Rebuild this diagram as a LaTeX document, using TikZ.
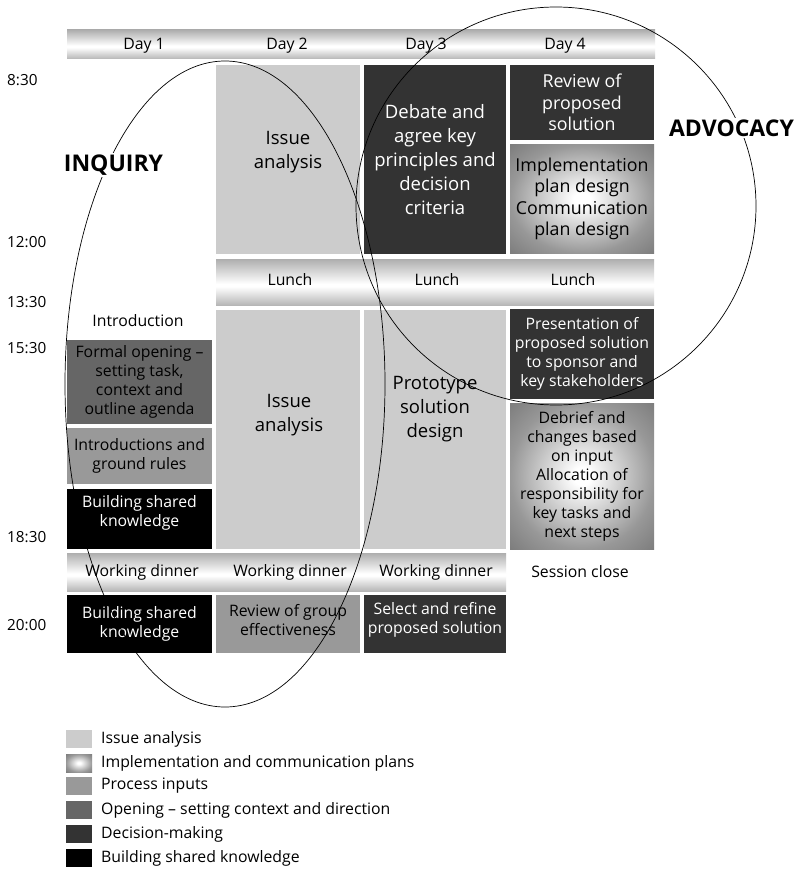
\documentclass[tikz,border=0pt]{standalone}
\usepackage{fontspec}
\setmainfont{Open Sans}

% fills for the session categories
\definecolor{issue}{HTML}{CCCCCC}
\definecolor{process}{HTML}{999999}
\definecolor{opening}{HTML}{666666}
\definecolor{decision}{HTML}{333333}
\definecolor{knowledge}{HTML}{000000}
\definecolor{barTop}{HTML}{AEAEAE}
\definecolor{barBot}{HTML}{B6B6B6}
\definecolor{glowMid}{HTML}{989898}
\definecolor{glowEdge}{HTML}{7E7E7E}

% silver bars for the day headers and meal breaks
\pgfdeclareverticalshading{silverbar}{100bp}{color(0bp)=(barBot); color(25bp)=(barBot); color(45bp)=(white); color(48bp)=(white); color(75bp)=(barTop); color(100bp)=(barTop)}
% white glow for the implementation and communication plans
\pgfdeclareradialshading{glow}{\pgfpoint{0bp}{0bp}}{color(0bp)=(white); color(3bp)=(white); color(25bp)=(glowMid); color(35bp)=(glowEdge); color(50bp)=(glowEdge)}

\tikzset{
  cell/.style={draw=none, inner sep=0pt, align=center, font=\fontsize{15.8}{19}\selectfont},
  bigtext/.style={font=\fontsize{18.5}{24}\selectfont},
  midtext/.style={font=\fontsize{17.8}{21.5}\selectfont},
  silver/.style={cell, shading=silverbar},
  glowing/.style={cell, shading=glow},
  lbl/.style={inner sep=0pt, align=center, font=\fontsize{15.8}{19}\selectfont},
  timelbl/.style={inner sep=0pt, anchor=west, font=\fontsize{15.3}{18}\selectfont},
  phase/.style={inner sep=1.5pt, fill=white, font=\fontsize{23}{26}\selectfont\bfseries},
  ring/.style={draw=black, line width=0.7pt},
  swatch/.style={draw=none, inner sep=0pt, minimum width=26pt, minimum height=18pt},
  legtext/.style={inner sep=0pt, anchor=west, font=\fontsize{15.8}{19}\selectfont}
}

\begin{document}
\begin{tikzpicture}[x=1pt, y=-1pt]
\useasboundingbox[fill=white] (0,0) rectangle (801,869);

% day header
\node[silver, minimum width=588pt, minimum height=29pt] (days) at (361,44.5) {};
\node[lbl] (day1) at (144,46) {Day 1};
\node[lbl] (day2) at (287,46) {Day 2};
\node[lbl] (day3) at (426,46) {Day 3};
\node[lbl] (day4) at (565,46) {Day 4};

% times
\node[timelbl] (t0830) at (7,80) {8:30};
\node[timelbl] (t1200) at (7,242) {12:00};
\node[timelbl] (t1330) at (7,302) {13:30};
\node[timelbl] (t1530) at (7,348) {15:30};
\node[timelbl] (t1830) at (7,537) {18:30};
\node[timelbl] (t2000) at (7,625) {20:00};

% morning sessions
\node[cell, fill=issue, minimum width=144pt, minimum height=189pt] (d2am) at (288,159.5) {};
\node[lbl, bigtext] (d2amt) at (288,152) {Issue\\analysis};
\node[cell, bigtext, fill=decision, text=white, minimum width=142pt, minimum height=189pt] (d3am) at (435,159.5)
  {Debate and\\agree key\\principles and\\decision\\criteria};
\node[cell, midtext, fill=decision, text=white, minimum width=144pt, minimum height=75pt] (d4am) at (582,102.5)
  {Review of\\proposed\\solution};
\node[glowing, midtext, minimum width=144pt, minimum height=108pt] (d4plan) at (582,199)
  {Implementation\\plan design\\Communication\\plan design};

% lunch
\node[silver, minimum width=438pt, minimum height=46pt] (lunch) at (435,282) {};
\node[lbl] (lunch2) at (290,280) {Lunch};
\node[lbl] (lunch3) at (437,280) {Lunch};
\node[lbl] (lunch4) at (573,280) {Lunch};

% afternoon sessions
\node[lbl] (intro) at (138,321) {Introduction};
\node[cell, fill=opening, minimum width=145pt, minimum height=84pt] (d1open) at (139.5,382)
  {Formal opening –\\setting task,\\context and\\outline agenda};
\node[cell, fill=process, minimum width=145pt, minimum height=56pt] (d1rules) at (139.5,456)
  {Introductions and\\ground rules};
\node[cell, fill=knowledge, minimum width=145pt, minimum height=60pt] (d1know) at (139.5,519) {};
\node[lbl, text=white] (d1knowt) at (139.5,513) {Building shared\\knowledge};
\node[cell, fill=issue, minimum width=144pt, minimum height=239pt] (d2pm) at (288,429.5) {};
\node[lbl, bigtext] (d2pmt) at (289,415) {Issue\\analysis};
\node[cell, fill=issue, minimum width=142pt, minimum height=239pt] (d3pm) at (435,429.5) {};
\node[lbl, bigtext] (d3pmt) at (435,409) {Prototype\\solution\\design};
\node[cell, fill=decision, text=white, minimum width=144pt, minimum height=90pt] (d4pres) at (582,354)
  {Presentation of\\proposed solution\\to sponsor and\\key stakeholders};
\node[glowing, minimum width=144pt, minimum height=146pt] (d4deb) at (582,476)
  {Debrief and\\changes based\\on input\\Allocation of\\responsibility for\\key tasks and\\next steps};

% dinner
\node[silver, minimum width=439pt, minimum height=38pt] (dinner) at (286.5,572) {};
\node[lbl] (dinner1) at (142,572) {Working dinner};
\node[lbl] (dinner2) at (290,572) {Working dinner};
\node[lbl] (dinner3) at (436,572) {Working dinner};
\node[lbl] (close) at (580,572) {Session close};

% evening sessions
\node[cell, fill=knowledge, text=white, minimum width=145pt, minimum height=58pt] (e1) at (139.5,624)
  {Building shared\\knowledge};
\node[cell, fill=process, minimum width=144pt, minimum height=58pt] (e2) at (288,624) {};
\node[lbl] (e2t) at (288,620) {Review of group\\effectiveness};
\node[cell, fill=decision, minimum width=142pt, minimum height=58pt] (e3) at (435,624) {};
\node[lbl, text=white] (e3t) at (435,620) {Select and refine\\proposed solution};

% inquiry and advocacy phases
\draw[ring] (225,384) ellipse [x radius=160pt, y radius=323pt];
\draw[ring] (556,206) ellipse [x radius=200pt, y radius=199pt];
\node[phase] (inquiry) at (113.5,165) {INQUIRY};
\node[phase] (advocacy) at (731.5,128) {ADVOCACY};

% legend
\node[swatch, fill=issue] (k1) at (79,739) {};
\node[swatch, shading=glow] (k2) at (79,763) {};
\node[swatch, fill=process] (k3) at (79,786) {};
\node[swatch, fill=opening] (k4) at (79,810) {};
\node[swatch, fill=decision] (k5) at (79,834) {};
\node[swatch, fill=knowledge] (k6) at (79,858) {};
\node[legtext] (k1t) at (101,739) {Issue analysis};
\node[legtext] (k2t) at (101,763) {Implementation and communication plans};
\node[legtext] (k3t) at (101,786) {Process inputs};
\node[legtext] (k4t) at (101,810) {Opening – setting context and direction};
\node[legtext] (k5t) at (101,834) {Decision-making};
\node[legtext] (k6t) at (101,858) {Building shared knowledge};
\end{tikzpicture}
\end{document}
